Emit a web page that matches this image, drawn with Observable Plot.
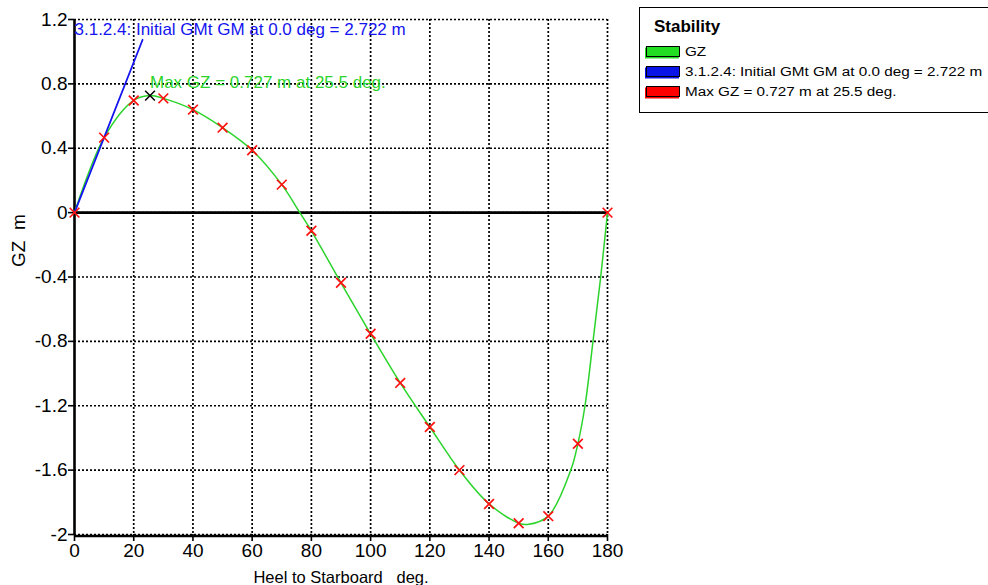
<!DOCTYPE html>
<html><head><meta charset="utf-8">
<script src="https://cdn.jsdelivr.net/npm/d3@7"></script>
<script src="https://cdn.jsdelivr.net/npm/@observablehq/plot@0.6"></script>
<style>
html,body{margin:0;padding:0;background:#fff}
body{width:988px;height:585px;overflow:hidden;position:relative;font-family:"Liberation Sans",Arial,sans-serif}
#chart{position:absolute;left:0;top:0}
.lg{position:absolute;line-height:1;white-space:pre;color:#000}
#lgbox{position:absolute;left:639px;top:7px;width:500px;height:106px;border:1.6px solid #000;border-right:none;box-sizing:border-box;background:#fff}
.sw{position:absolute;width:34px;height:11px;border:1.5px solid #000;box-sizing:border-box}
.lt{font-size:12.5px;transform:scaleX(1.22);transform-origin:0 0}
</style></head><body>
<div id="chart"></div>
<div id="lgbox"></div>
<div id="legend"></div>
<script>
// ---- data ----
const heelDeg = [0,10,20,30,40,50,60,70,80,90,100,110,120,130,140,150,160,170,180];
const gzValues = [0,0.466,0.697,0.71,0.64,0.528,0.388,0.174,-0.113,-0.436,-0.753,-1.058,-1.332,-1.60,-1.81,-1.93,-1.886,-1.436,0];
// extra points
const curveExtraHeel = [25.5,76.1,152.9,167.6,172.4,175.1,177.7];
const curveExtraGz = [0.727,0,-1.938,-1.6,-1.2,-0.8,-0.4];
const maxGzHeel = 25.5, maxGzValue = 0.727;
const gmLineHeel = [0,23];
const gmLineGz = [0,1.074];
const xTicks = [0,20,40,60,80,100,120,140,160,180];
const yTicks = [-2,-1.6,-1.2,-0.8,-0.4,0,0.4,0.8,1.2];
const gmLabel = "3.1.2.4: Initial GMt GM at 0.0 deg = 2.722 m";
const maxLabel = "Max GZ = 0.727 m at 25.5 deg.";
const legendTitle = "Stability";
const legendItems = ["GZ", gmLabel, maxLabel];
const legendColors = ["#22dd22","#0a14e6","#ff0000"];

const green = "#2bd42b", blue = "#1414f0", red = "#ff1010";

const markers = heelDeg.map((h,i)=>({h, gz:gzValues[i]}));
const curve = markers.concat(curveExtraHeel.map((h,i)=>({h, gz:curveExtraGz[i]}))).sort((a,b)=>a.h-b.h);
const gmLine = gmLineHeel.map((h,i)=>({h, gz:gmLineGz[i]}));

const gridX = xTicks.filter(d=>d!==0);
const dotted = {stroke:"#000", strokeWidth:1.7, strokeDasharray:"2,2"};

const chart = Plot.plot({
  width:988, height:585,
  marginLeft:74, marginRight:381, marginTop:19, marginBottom:51,
  x:{domain:[0,180]},
  y:{domain:[-2,1.2]},
  style:{fontFamily:"Liberation Sans, Arial, sans-serif", background:"transparent", overflow:"visible", color:"#000"},
  marks:[
    Plot.ruleX(gridX, {...dotted}),
    Plot.ruleY(yTicks, {...dotted}),
    Plot.ruleY([0], {stroke:"#000", strokeWidth:2.6}),
    Plot.ruleY([-2], {stroke:"#000", strokeWidth:2.4, dy:1.5}),
    Plot.ruleX([0], {stroke:"#000", strokeWidth:2.6}),
    Plot.axisX(xTicks, {tickSize:7, tickPadding:2, fontSize:19, tickFormat:d=>String(d), label:null, strokeWidth:1.6}),
    Plot.axisY(yTicks, {tickSize:6, tickPadding:1, fontSize:19, tickFormat:d=>String(d), label:null, strokeWidth:1.6}),
    Plot.line(curve, {x:"h", y:"gz", stroke:green, strokeWidth:1.5, curve:"catmull-rom"}),
    Plot.line(gmLine, {x:"h", y:"gz", stroke:blue, strokeWidth:1.8}),
    Plot.dot(markers, {x:"h", y:"gz", symbol:"times", r:4.5, stroke:red, strokeWidth:1.7}),
    Plot.dot([{h:maxGzHeel, gz:maxGzValue}], {x:"h", y:"gz", symbol:"times", r:4.5, stroke:"#000", strokeWidth:1.5}),
    Plot.text([gmLabel], {x:()=>0, y:()=>1.2, text:d=>d, textAnchor:"start", lineAnchor:"top", dy:3, fill:blue, fontSize:17}),
    Plot.text([maxLabel], {x:()=>maxGzHeel, y:()=>0.8, text:d=>d, textAnchor:"start", lineAnchor:"middle", dy:-1.5, fill:green, fontSize:17}),
    Plot.text(["Heel to Starboard   deg."], {frameAnchor:"bottom", text:d=>d, lineAnchor:"middle", dy:43, fontSize:16.5}),
    Plot.text(["GZ  m"], {frameAnchor:"left", text:d=>d, rotate:-90, dx:-56, dy:-10, fontSize:19})
  ]
});
document.getElementById("chart").appendChild(chart);
chart.querySelectorAll("text").forEach(t=>{ if(/ {2,}/.test(t.textContent)) t.style.whiteSpace="pre"; });

// legend
const lg = document.getElementById("legend");
const title = document.createElement("div");
title.className = "lg"; title.textContent = legendTitle;
Object.assign(title.style, {left:"654px", top:"18px", fontSize:"17px", fontWeight:"bold"});
lg.appendChild(title);
legendItems.forEach((s,i)=>{
  const top = 46 + i*20;
  const sw = document.createElement("div");
  sw.className = "sw";
  Object.assign(sw.style, {left:"646px", top:top+"px", background:legendColors[i], boxShadow:`-1px 1.5px 0 ${legendColors[i]}`});
  lg.appendChild(sw);
  const t = document.createElement("div");
  t.className = "lg lt"; t.textContent = s;
  Object.assign(t.style, {left:"685px", top:(top-0.5)+"px"});
  lg.appendChild(t);
});
</script>
</body></html>
